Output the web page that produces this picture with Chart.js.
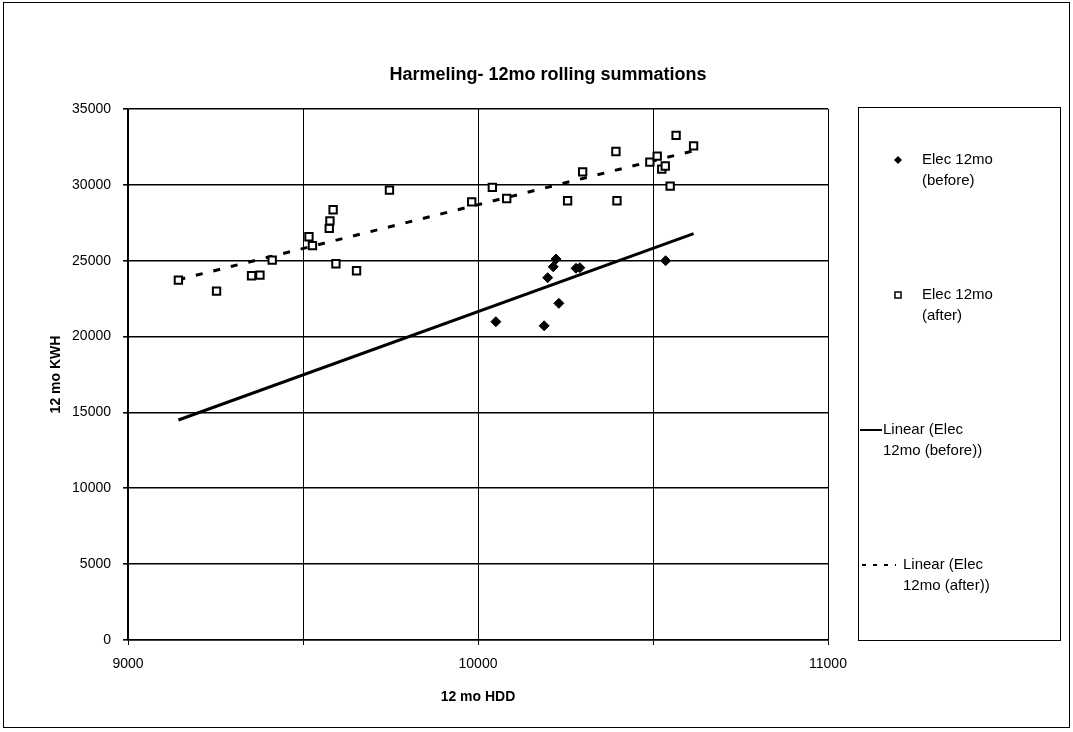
<!DOCTYPE html>
<html>
<head>
<meta charset="utf-8">
<script src="https://cdn.jsdelivr.net/npm/chart.js@4.4.0/dist/chart.umd.min.js"></script>
<style>
    body { margin: 0; background: #fff; }
    #wrap { width: 1073px; height: 732px; }
</style>
</head>
<body>
<div id="wrap"><canvas id="myGraph" width="1073" height="732"></canvas></div>
<script>
"use strict";

// values
const beforeHdd = [10051, 10189, 10199, 10215, 10223, 10231, 10280, 10291, 10536];
const beforeKwh = [20980, 20710, 23880, 24600, 25110, 22190, 24500, 24540, 25000];

const afterHdd = [9144, 9253, 9353, 9377, 9412, 9517, 9527, 9575, 9577, 9586, 9594, 9653, 9747, 9982,
    10041, 10082, 10256, 10299, 10394, 10397, 10491, 10512, 10525, 10535, 10549, 10566, 10616];
const afterKwh = [23720, 23000, 24010, 24050, 25040, 26580, 25990, 27130, 27630, 28360, 24800, 24340, 29650, 28880,
    29830, 29100, 28950, 30860, 32200, 28950, 31500, 31890, 31040, 31240, 29920, 33260, 32570];

// trend line end points
const trendHdd = [9144, 10616];
const trendBefore = [14500, 26780];
const trendAfter = [23750, 32250];

const chartTitle = "Harmeling- 12mo rolling summations";
const seriesNames = ["Elec 12mo (before)", "Elec 12mo (after)", "Linear (Elec 12mo (before))", "Linear (Elec 12mo (after))"];
const legendLines = [["Elec 12mo", "(before)"], ["Elec 12mo", "(after)"], ["Linear (Elec", "12mo (before))"], ["Linear (Elec", "12mo (after))"]];

const yTicks = [0, 5000, 10000, 15000, 20000, 25000, 30000, 35000];
const xTickLabels = [9000, 10000, 11000];

function toPoints(xs, ys) {
    let pts = [];
    for (let i = 0; i < xs.length; i++) {
        pts.push({ x: xs[i], y: ys[i] });
    }
    return pts;
}

const FONT = "'Liberation Sans', Arial, sans-serif";

// title, boxed legend on the right and the outer frame
const sideLegend = {
    id: "sideLegend",
    afterDraw(chart) {
        const ctx = chart.ctx;
        const area = chart.chartArea;
        const left = area.right + 30;
        const top = area.top - 2;
        const right = chart.width - 13;
        const bottom = area.bottom;
        ctx.save();
        ctx.fillStyle = "#000";
        ctx.font = "bold 18px " + FONT;
        ctx.textAlign = "center";
        ctx.textBaseline = "middle";
        ctx.fillText(chartTitle, 548, 75);

        ctx.strokeStyle = "#000";
        ctx.lineWidth = 1;
        ctx.strokeRect(left + 0.5, top + 0.5, right - left, bottom - top);
        // outer frame
        ctx.strokeRect(3.5, 2.5, chart.width - 7, chart.height - 7);

        ctx.font = "15px " + FONT;
        const rowStart = top + 53;
        const rowGap = 135;
        chart.data.datasets.forEach((ds, i) => {
            const y = rowStart + i * rowGap;
            let textX = left + 64;
            ctx.strokeStyle = "#000";
            if (i === 0) {
                ctx.fillStyle = "#000";
                ctx.beginPath();
                ctx.moveTo(left + 40, y - 4);
                ctx.lineTo(left + 44, y);
                ctx.lineTo(left + 40, y + 4);
                ctx.lineTo(left + 36, y);
                ctx.closePath();
                ctx.fill();
            } else if (i === 1) {
                ctx.lineWidth = 1.5;
                ctx.fillStyle = "#fff";
                ctx.fillRect(left + 37, y - 3, 6, 6);
                ctx.strokeRect(left + 37, y - 3, 6, 6);
            } else {
                ctx.lineWidth = 2;
                ctx.beginPath();
                if (i === 2) {
                    ctx.moveTo(left + 2, y);
                    ctx.lineTo(left + 24, y);
                    textX = left + 25;
                } else {
                    ctx.setLineDash([4, 7]);
                    ctx.moveTo(left + 4, y);
                    ctx.lineTo(left + 38, y);
                    textX = left + 45;
                }
                ctx.stroke();
                ctx.setLineDash([]);
            }
            ctx.fillStyle = "#000";
            ctx.textAlign = "left";
            ctx.fillText(legendLines[i][0], textX, y);
            ctx.fillText(legendLines[i][1], textX, y + 21);
        });
        ctx.restore();
    }
};

const data = {
    datasets: [
        {
            label: seriesNames[0],
            data: toPoints(beforeHdd, beforeKwh),
            pointStyle: "rectRot",
            pointRadius: 5,
            pointBackgroundColor: "#000",
            pointBorderColor: "#000",
            pointBorderWidth: 1,
            showLine: false,
            order: 1,
        },
        {
            label: seriesNames[1],
            data: toPoints(afterHdd, afterKwh),
            pointStyle: "rect",
            pointRadius: 5.2,
            pointBackgroundColor: "#fff",
            pointBorderColor: "#000",
            pointBorderWidth: 2,
            showLine: false,
            order: 0,
        },
        {
            label: seriesNames[2],
            data: toPoints(trendHdd, trendBefore),
            showLine: true,
            borderColor: "#000",
            borderWidth: 3,
            pointRadius: 0,
            order: 2,
        },
        {
            label: seriesNames[3],
            data: toPoints(trendHdd, trendAfter),
            showLine: true,
            borderColor: "#000",
            borderWidth: 3,
            borderDash: [7, 11],
            pointRadius: 0,
            order: 2,
        },
    ],
};

const config = {
    type: "scatter",
    data: data,
    options: {
        responsive: false,
        animation: false,
        layout: {
            padding: { left: 40, right: 245, top: 109, bottom: 22 },
        },
        plugins: {
            legend: { display: false },
            tooltip: { enabled: false },
            title: { display: false },
        },
        scales: {
            x: {
                type: "linear",
                min: 9000,
                max: 11000,
                afterFit: (s) => { s.height = 70; },
                border: { color: "#000", width: 1.5 },
                grid: { color: "#000", lineWidth: 1, tickLength: 5, drawTicks: true },
                ticks: {
                    stepSize: 500,
                    padding: 11,
                    color: "#000",
                    maxRotation: 0,
                    font: { family: FONT, size: 14 },
                    callback: (v) => (xTickLabels.includes(v) ? String(v) : ""),
                },
                title: {
                    display: true,
                    text: "12 mo HDD",
                    color: "#000",
                    font: { family: FONT, size: 14, weight: "bold" },
                    padding: { top: 0, bottom: 4 },
                },
            },
            y: {
                min: 0,
                max: 35000,
                afterFit: (s) => { s.width = 88; },
                afterBuildTicks: (s) => { s.ticks = yTicks.map((v) => ({ value: v })); },
                border: { color: "#000", width: 1.5 },
                grid: { color: "#000", lineWidth: 1.6, tickLength: 5 },
                ticks: {
                    padding: 12,
                    color: "#000",
                    font: { family: FONT, size: 14 },
                    callback: (v) => String(v),
                },
                title: {
                    display: true,
                    text: "12 mo KWH",
                    color: "#000",
                    font: { family: FONT, size: 14, weight: "bold" },
                    padding: { top: 8, bottom: 0 },
                },
            },
        },
    },
    plugins: [sideLegend],
};

const canvasChart = document.getElementById("myGraph");
new Chart(canvasChart, config);
</script>
</body>
</html>
